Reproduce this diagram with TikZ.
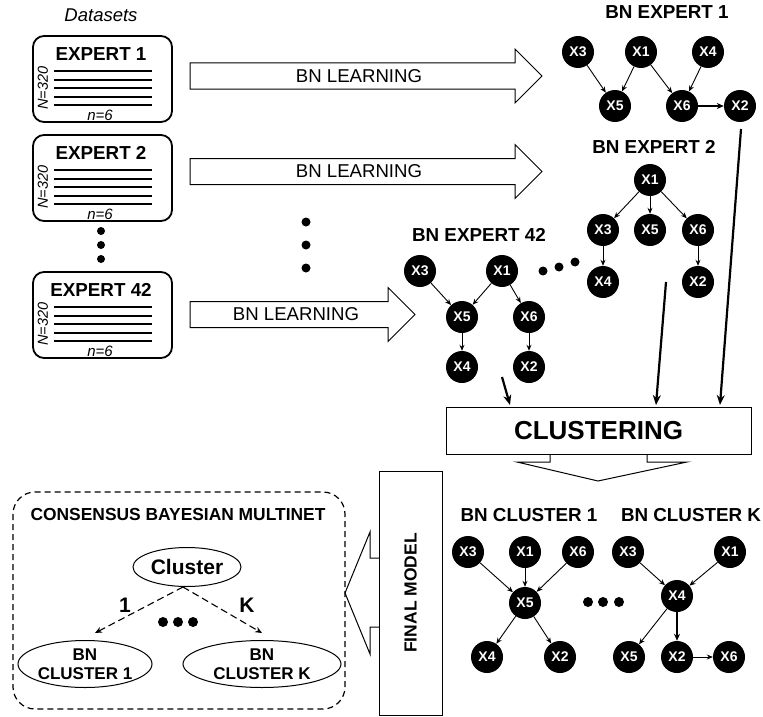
\documentclass[tikz,border=0pt]{standalone}
\usepackage{fontspec}
\setmainfont{Liberation Sans}
\usetikzlibrary{arrows.meta,shapes.geometric}

\tikzset{
  bn/.style={circle,fill=black,text=white,inner sep=0pt,minimum size=32pt,font=\fontsize{14}{14}\selectfont\bfseries},
  edge/.style={-{Stealth[length=6pt,width=5pt]},line width=0.9pt},
  thickedge/.style={-{Stealth[length=7pt,width=6pt]},line width=1.6pt},
  title/.style={font=\fontsize{18.8}{20}\selectfont\bfseries},
  learn/.style={font=\fontsize{18.6}{20}\selectfont},
  bigarrow/.style={draw,line width=1pt,fill=white,line join=miter},
  feed/.style={-{Stealth[length=10pt,width=8pt]},line width=2.2pt},
  bigdot/.style={circle,fill=black,inner sep=0pt,minimum size=9pt},
  oval/.style={ellipse,draw,line width=1pt,inner sep=0pt,align=center,font=\fontsize{17}{19}\selectfont\bfseries},
  branch/.style={dashed,dash pattern=on 7pt off 4pt,line width=1.1pt,-{Stealth[length=7pt,width=6pt]}},
}

\begin{document}
\begin{tikzpicture}[x=1pt,y=-1pt]
\useasboundingbox (0,0) rectangle (763,717);

\node[font=\fontsize{18.5}{20}\selectfont\itshape] (dsets) at (101,15) {Datasets};
\foreach \t/\lab in {36/1,135/2,272/42}{
  \draw[line width=1.8pt,rounded corners=11pt] (33,\t) rectangle (172,\t+86);
  \node[title] (exp\lab) at (101,\t+18) {EXPERT \lab};
  \foreach \dy/\w in {35/1.5,44/1.1,52/1.6,61/1.1,69/1.6}
    \draw[line width=\w pt] (54,\t+\dy) -- (152,\t+\dy);
  \node[rotate=90,font=\fontsize{14.5}{15}\selectfont\itshape] (N\lab) at (43,\t+52) {N=320};
  \node[font=\fontsize{15}{15}\selectfont\itshape] (n\lab) at (100,\t+79) {n=6};
}
\foreach \y [count=\i] in {231,245,259}
  \node[bigdot,minimum size=8pt] (ld\i) at (101,\y) {};

\foreach \yc/\xe [count=\i] in {76/515,171.5/515,314.5/388}
  \draw[bigarrow] (190,\yc-13) -- (\xe,\yc-13) -- (\xe,\yc-27) -- (\xe+27,\yc)
    -- (\xe,\yc+27) -- (\xe,\yc+13) -- (190,\yc+13) -- cycle;
\node[learn] (learn1) at (359,76) {BN LEARNING};
\node[learn] (learn2) at (359,171.5) {BN LEARNING};
\node[learn] (learn3) at (296,314.5) {BN LEARNING};
\foreach \y [count=\i] in {222,245,268}
  \node[bigdot] (md\i) at (306,\y) {};

% BN expert 1
\node[title] (t1) at (667,12) {BN EXPERT 1};
\node[bn] (a3) at (578,52) {X3};
\node[bn] (a1) at (641,52) {X1};
\node[bn] (a4) at (708,52) {X4};
\node[bn] (a5) at (615,106) {X5};
\node[bn] (a6) at (682,106) {X6};
\node[bn] (a2) at (740,106) {X2};
\draw[edge] (a3) -- (a5);
\draw[edge] (a1) -- (a5);
\draw[edge] (a1) -- (a6);
\draw[edge] (a4) -- (a6);
\draw[thickedge] (a6) -- (a2);

% BN expert 2
\node[title] (t2) at (654,147) {BN EXPERT 2};
\node[bn] (b1) at (650,180) {X1};
\node[bn] (b3) at (603,230) {X3};
\node[bn] (b5) at (650,230) {X5};
\node[bn] (b6) at (698,230) {X6};
\node[bn] (b4) at (603,282) {X4};
\node[bn] (b2) at (698,282) {X2};
\draw[edge] (b1) -- (b3);
\draw[edge] (b1) -- (b5);
\draw[edge] (b1) -- (b6);
\draw[edge] (b3) -- (b4);
\draw[edge] (b6) -- (b2);
\node[bigdot] (ed1) at (543,271) {};
\node[bigdot] (ed2) at (559,267) {};
\node[bigdot] (ed3) at (575,262) {};

% BN expert 42
\node[title] (t42) at (479,235) {BN EXPERT 42};
\node[bn] (c3) at (420,271) {X3};
\node[bn] (c1) at (502,271) {X1};
\node[bn] (c5) at (462,317) {X5};
\node[bn] (c6) at (529,317) {X6};
\node[bn] (c4) at (462,367) {X4};
\node[bn] (c2) at (529,367) {X2};
\draw[edge] (c3) -- (c5);
\draw[edge] (c1) -- (c5);
\draw[edge] (c1) -- (c6);
\draw[edge] (c5) -- (c4);
\draw[edge] (c6) -- (c2);

% clustering
\node[draw,line width=1pt,minimum width=305pt,minimum height=47pt,
  font=\fontsize{26}{26}\selectfont\bfseries] (clus) at (598.5,430.5) {CLUSTERING};
\draw[line width=1pt,line join=miter] (550,454) -- (550,462) -- (517,462) -- (598,481)
  -- (687,462) -- (647,462) -- (647,454);
\coordinate (f1s) at (502,377);
\coordinate (f1e) at (510,405);
\coordinate (f2s) at (666,282);
\coordinate (f2e) at (656,405);
\coordinate (f3s) at (741,129);
\coordinate (f3e) at (720,405);
\draw[feed] (f1s) -- (f1e);
\draw[feed] (f2s) -- (f2e);
\draw[feed] (f3s) -- (f3e);

% BN clusters
\node[title] (tc1) at (529,515) {BN CLUSTER 1};
\node[title] (tck) at (691,515) {BN CLUSTER K};
\node[bn] (p3) at (468,552) {X3};
\node[bn] (p1) at (525,552) {X1};
\node[bn] (p6) at (578,552) {X6};
\node[bn] (p5) at (525,603) {X5};
\node[bn] (p4) at (487,657) {X4};
\node[bn] (p2) at (560,657) {X2};
\draw[edge] (p3) -- (p5);
\draw[edge] (p1) -- (p5);
\draw[edge] (p6) -- (p5);
\draw[edge] (p5) -- (p4);
\draw[edge] (p5) -- (p2);
\foreach \x [count=\i] in {588,603,619}
  \node[bigdot,minimum size=10pt] (cd\i) at (\x,602) {};
\node[bn] (q3) at (628,552) {X3};
\node[bn] (q1) at (730,552) {X1};
\node[bn] (q4) at (677,596) {X4};
\node[bn] (q5) at (629,657) {X5};
\node[bn] (q2) at (677,657) {X2};
\node[bn] (q6) at (729,657) {X6};
\draw[edge] (q3) -- (q4);
\draw[edge] (q1) -- (q4);
\draw[edge] (q4) -- (q5);
\draw[thickedge] (q4) -- (q2);
\draw[edge] (q2) -- (q6);

% final model
\node[draw,line width=1pt,rotate=90,minimum width=244pt,minimum height=63pt,
  font=\fontsize{17.5}{18}\selectfont\bfseries] (final) at (410.5,593) {FINAL MODEL};
\draw[line width=1pt,line join=miter] (379,558) -- (370,558) -- (370,532) -- (345,593)
  -- (370,654) -- (370,627) -- (379,627);

% multinet
\draw[dashed,dash pattern=on 6pt off 4pt,line width=1.2pt,rounded corners=22pt] (13,492) rectangle (345,709);
\node[font=\fontsize{17.4}{18}\selectfont\bfseries] (cbm) at (178,515) {CONSENSUS BAYESIAN MULTINET};
\node[oval,minimum width=108pt,minimum height=39pt,font=\fontsize{21}{21}\selectfont\bfseries] (clv) at (187,567) {Cluster};
\node[oval,minimum width=134pt,minimum height=47pt] (bc1) at (85,664) {BN\\CLUSTER 1};
\node[oval,minimum width=158pt,minimum height=47pt] (bck) at (262,664) {BN\\CLUSTER K};
\draw[branch] ([xshift=-4pt]clv.south) -- ([xshift=10pt,yshift=7pt]bc1.north);
\draw[branch] ([xshift=-4pt]clv.south) -- ([yshift=7pt]bck.north);
\node[font=\fontsize{21}{21}\selectfont\bfseries] (l1) at (125,605) {1};
\node[font=\fontsize{21}{21}\selectfont\bfseries] (lk) at (247,605) {K};
\foreach \x [count=\i] in {163,178,193}
  \node[bigdot,minimum size=10pt] (md\i) at (\x,622) {};
\end{tikzpicture}
\end{document}
